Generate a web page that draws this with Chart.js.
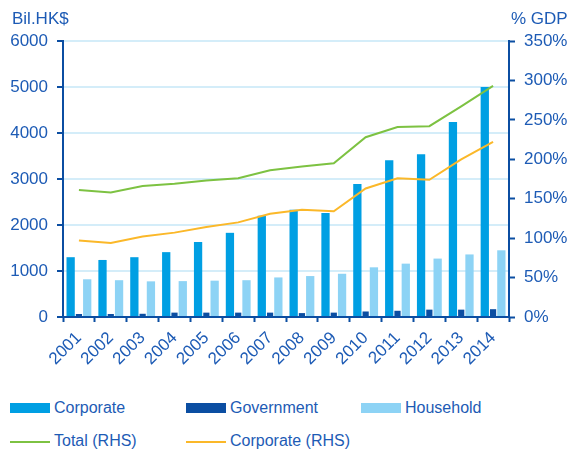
<!DOCTYPE html>
<html>
<head>
<meta charset="utf-8">
<script src="https://cdn.jsdelivr.net/npm/chart.js@4"></script>
<style>
  html, body { margin: 0; padding: 0; background: #fff; }
  body { width: 571px; height: 452px; position: relative; overflow: hidden; font-family: "Liberation Sans", Arial, sans-serif; }
  #wrap { position: absolute; left: 0; top: 0; width: 571px; height: 380px; }
  .lg { position: absolute; color: #1d5bb5; font-size: 16px; line-height: 18px; white-space: nowrap; }
  .sw { position: absolute; left: 0; width: 40px; }
  .lg span { position: absolute; left: 44px; top: 0; }
</style>
</head>
<body>
<div id="wrap"><canvas id="debtChart"></canvas></div>

<div class="lg" style="left:10px; top:399px;"><div class="sw" style="top:4px; height:10px; background:#009fe3;"></div><span>Corporate</span></div>
<div class="lg" style="left:186px; top:399px;"><div class="sw" style="top:4px; height:10px; background:#0b4ea2;"></div><span>Government</span></div>
<div class="lg" style="left:361px; top:399px;"><div class="sw" style="top:4px; height:10px; background:#8dd3f5;"></div><span>Household</span></div>
<div class="lg" style="left:10px; top:432px;"><div class="sw" style="top:9px; height:2px; background:#7dc242;"></div><span>Total (RHS)</span></div>
<div class="lg" style="left:186px; top:432px;"><div class="sw" style="top:9px; height:2px; background:#fbb829;"></div><span>Corporate (RHS)</span></div>

<script>
const years = ['2001','2002','2003','2004','2005','2006','2007','2008','2009','2010','2011','2012','2013','2014'];
const corporate = [1300, 1240, 1300, 1410, 1630, 1830, 2200, 2330, 2260, 2890, 3410, 3540, 4240, 5000];
const government = [65, 65, 70, 95, 95, 95, 95, 85, 95, 120, 135, 160, 160, 170];
const household = [820, 800, 775, 780, 790, 800, 860, 890, 940, 1080, 1160, 1270, 1360, 1450];
const totalRhs = [161, 158, 166, 169, 173, 176, 186, 191, 195, 228, 241, 242, 267, 293];
const corporateRhs = [97, 94, 102, 107, 114, 120, 131, 136, 134, 163, 176, 174, 200, 222];

const textBlue = '#1d5bb5';
const axisBlue = '#0b4ea2';
const gridBlue = '#d4edf9';
const font = { family: '"Liberation Sans", Arial, sans-serif', size: 17 };

const axisTitles = {
    id: 'axisTitles',
    afterDraw(chart) {
        const ctx = chart.ctx;
        ctx.save();
        ctx.fillStyle = textBlue;
        ctx.font = '17px "Liberation Sans", Arial, sans-serif';
        ctx.textBaseline = 'alphabetic';
        ctx.textAlign = 'left';
        ctx.fillText('Bil.HK$', 12, 24);
        ctx.fillText('% GDP', 511, 24);
        ctx.restore();
    }
};

const ctx = document.getElementById('debtChart').getContext('2d');
new Chart(ctx, {
    data: {
        labels: years,
        datasets: [
            { type: 'line', label: 'Total (RHS)', data: totalRhs, yAxisID: 'y1', borderColor: '#7dc242', borderWidth: 2, pointRadius: 0, tension: 0, order: 0 },
            { type: 'line', label: 'Corporate (RHS)', data: corporateRhs, yAxisID: 'y1', borderColor: '#fbb829', borderWidth: 2, pointRadius: 0, tension: 0, order: 0 },
            { type: 'bar', label: 'Corporate', data: corporate, yAxisID: 'y', backgroundColor: '#009fe3', barPercentage: 1.0, categoryPercentage: 0.78, order: 1 },
            { type: 'bar', label: 'Government', data: government, yAxisID: 'y', backgroundColor: '#0b4ea2', barPercentage: 0.75, categoryPercentage: 0.78, order: 1 },
            { type: 'bar', label: 'Household', data: household, yAxisID: 'y', backgroundColor: '#8dd3f5', barPercentage: 1.0, categoryPercentage: 0.78, order: 1 }
        ]
    },
    options: {
        responsive: true,
        maintainAspectRatio: false,
        animation: false,
        layout: { padding: { top: 41, left: 0, right: 0, bottom: 0 } },
        plugins: {
            legend: { display: false },
            tooltip: { enabled: false }
        },
        scales: {
            x: {
                offset: true,
                grid: { offset: true, drawOnChartArea: false, drawTicks: true, tickLength: 5, tickColor: axisBlue, tickWidth: 2 },
                border: { color: axisBlue, width: 2 },
                ticks: { color: textBlue, font: font, minRotation: 45, maxRotation: 45, padding: 6, autoSkip: false },
                afterFit: (s) => { s.height = 63; }
            },
            y: {
                position: 'left',
                min: 0,
                max: 6000,
                ticks: { stepSize: 1000, color: textBlue, font: font, padding: 9, callback: (v) => String(v) },
                grid: { color: gridBlue, lineWidth: 2, tickColor: axisBlue, tickWidth: 2, tickLength: 6 },
                border: { color: axisBlue, width: 2 },
                afterFit: (s) => { s.width = 63; }
            },
            y1: {
                position: 'right',
                min: 0,
                max: 350,
                ticks: { stepSize: 50, color: textBlue, font: font, padding: 9, callback: (v) => v + '%' },
                grid: { drawOnChartArea: false, tickColor: axisBlue, tickWidth: 2, tickLength: 6 },
                border: { color: axisBlue, width: 2 },
                afterFit: (s) => { s.width = 62; }
            }
        }
    },
    plugins: [axisTitles]
});
</script>
</body>
</html>
